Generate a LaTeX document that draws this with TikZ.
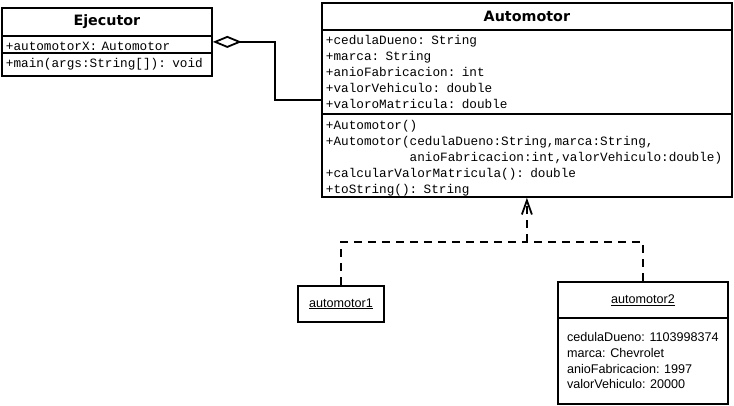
\documentclass[tikz,border=0pt]{standalone}
\usepackage{fontspec}
\setmainfont{DejaVu Sans}
\newfontfamily\codefont{Liberation Mono}
\newfontfamily\objfont{Liberation Sans}
\usetikzlibrary{arrows.meta}
\begin{document}
\begin{tikzpicture}[x=1pt, y=-1pt, line width=1.8pt,
  box/.style={draw, anchor=north west, inner sep=0pt},
  title/.style={box, font=\bfseries\fontsize{14.3}{16}\selectfont},
  code/.style={box, align=left, inner xsep=4pt, font=\codefont\fontsize{12.7}{16}\selectfont},
  obj/.style={box, align=left, font=\objfont\fontsize{12.6}{15.7}\selectfont},
  dep/.style={dash pattern=on 8pt off 6pt}]
\useasboundingbox (0,0) rectangle (734,406);
% Ejecutor class
\node[title, minimum width=210pt, minimum height=28pt] (ejH) at (1,7) {Ejecutor};
\node[code, text width=202pt, minimum height=17pt] (ejA) at (1,35) {\rule{0pt}{12pt}+automotorX: Automotor};
\node[code, text width=202pt, minimum height=23pt] (ejM) at (1,52) {+main(args:String[]): void};
% Automotor class
\node[title, minimum width=410pt, minimum height=27pt] (auH) at (321,2) {Automotor};
\node[code, text width=402pt, minimum height=84pt] (auA) at (321,29) {+cedulaDueno: String\\+marca: String\\+anioFabricacion: int\\+valorVehiculo: double\\+valoroMatricula: double};
\node[code, text width=402pt, minimum height=83pt] (auM) at (321,113) {\rule{0pt}{15pt}+Automotor()\\+Automotor(cedulaDueno:String,marca:String,\\\phantom{+Automotor(}anioFabricacion:int,valorVehiculo:double)\\+calcularValorMatricula(): double\\+toString(): String};
% Objects
\node[obj, minimum width=86pt, minimum height=36pt] (o1) at (297,285) {\underline{automotor1}};
\node[obj, minimum width=170pt, minimum height=36pt] (o2H) at (557,281) {\underline{automotor2}};
\node[obj, minimum width=170pt, minimum height=86pt] (o2A) at (557,317) {cedulaDueno: 1103998374\\marca: Chevrolet\\anioFabricacion: 1997\\valorVehiculo: 20000};
% Aggregation
\draw[{Diamond[open, fill=white, length=29pt, width=12pt]}-] ([yshift=2.5pt]ejA.east) -- ++(62,0) |- ([yshift=-28pt]auA.west);
% Instances
\coordinate (mid) at (auM.south |- 0,242);
\draw[dep] (o1.north) |- (mid);
\draw[dep] (o2H.north) |- (mid);
\draw[dep, -{Straight Barb[length=14pt, width=10pt]}] (mid) -- (auM.south);
\end{tikzpicture}
\end{document}
